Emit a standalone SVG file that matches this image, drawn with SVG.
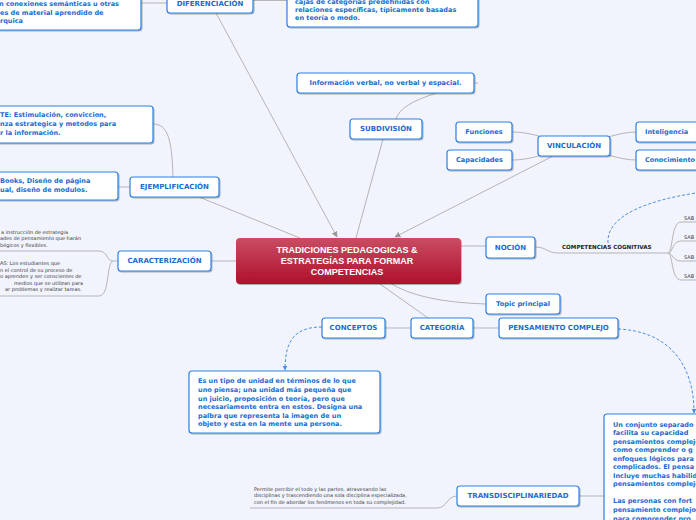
<svg xmlns="http://www.w3.org/2000/svg" width="696" height="520" viewBox="0 0 696 520">
<defs>
<filter id="sh" x="-10%" y="-20%" width="130%" height="160%"><feDropShadow dx="0.8" dy="1" stdDeviation="0.6" flood-color="#000" flood-opacity="0.3"/></filter>
<linearGradient id="rg" x1="0" y1="0" x2="0" y2="1"><stop offset="0" stop-color="#c94d63"/><stop offset="1" stop-color="#b0102b"/></linearGradient>
<marker id="ag" viewBox="0 0 10 10" refX="9" refY="5" markerWidth="6" markerHeight="6" orient="auto"><path d="M0,0 L10,5 L0,10 z" fill="#9a9a9a"/></marker>
<marker id="ab" viewBox="0 0 10 10" refX="9" refY="5" markerWidth="5" markerHeight="5" orient="auto"><path d="M0,0 L10,5 L0,10 z" fill="#4a8fe0"/></marker>
<style>
.n rect{fill:#fff;stroke:#2f80e6;stroke-width:1.2;filter:url(#sh)}
.t{font-family:"DejaVu Sans",Verdana,sans-serif;font-weight:bold;font-size:6.5px;fill:#1a6bd1}
.c{font-size:7px;text-anchor:middle}
.m{font-size:6.6px;text-anchor:middle}
.s{font-family:"DejaVu Sans",Verdana,sans-serif;font-size:5px;fill:#3a3a3a}
.k{font-family:"DejaVu Sans",Verdana,sans-serif;font-weight:bold;font-size:5.6px;fill:#222}
.w{font-family:"Liberation Sans",Arial,sans-serif;font-weight:bold;font-size:9px;fill:#fff;text-anchor:middle}
.ln{fill:none;stroke:#b5b5b5;stroke-width:1}
.ds{fill:none;stroke:#4a8fe0;stroke-width:1;stroke-dasharray:3 2}
</style>
</defs>
<rect x="0" y="0" width="696" height="520" fill="#f1f4fd"/>
<g id="connectors">
<path class="ln" d="M141,3 H167"/>
<path class="ln" d="M253,0.5 H287"/>
<path class="ln" d="M216,13 L337,237" marker-end="url(#ag)"/>
<path class="ln" d="M474,83 H478"/>
<path class="ln" d="M437,93 Q400,104 396,119"/>
<path class="ln" d="M383,139 L356,238"/>
<path class="ln" d="M512,132 C530,132 545,138 574,146"/>
<path class="ln" d="M512,160 C530,160 545,154 574,146"/>
<path class="ln" d="M574,146 C600,140 620,132 636,132"/>
<path class="ln" d="M574,146 C600,152 620,160 636,160"/>
<path class="ln" d="M553,156 L395,237" marker-end="url(#ag)"/>
<path class="ln" d="M173,177 C172,140 168,124 153,124" stroke-width="1.4"/>
<path class="ln" d="M130,187 H118"/>
<path class="ln" d="M199,197 L300,238"/>
<path class="ln" d="M211,261 H236"/>
<path class="ln" d="M118,261 H113 C106,261 108,251 99,251 H0"/>
<path class="ln" d="M113,261 C106,263 110,296 99,296 H0"/>
<path class="ln" d="M461,246 H486"/>
<path class="ln" d="M535,247 C547,247 547,253 558,253 H657"/>
<path class="ln" d="M657,253 H668" stroke="#999"/>
<path class="ln" d="M668,253 C673,253 671,222 681,222 H696"/>
<path class="ln" d="M668,253 C673,253 672,241 681,241 H696"/>
<path class="ln" d="M668,253 C673,253 672,261 681,261 H696"/>
<path class="ln" d="M668,253 C673,253 671,280 681,280 H696"/>
<path class="ds" d="M608,243 C606,215 650,200 696,193"/>
<path class="ln" d="M390,283 Q420,302 486,304"/>
<path class="ln" d="M380,284 L428,318"/>
<path class="ln" d="M385,328 H411"/>
<path class="ln" d="M473,328 H499"/>
<path class="ds" d="M322,327 C295,327 285,340 285,370" marker-end="url(#ab)"/>
<path class="ds" d="M618,329 C665,331 694,360 694,413" marker-end="url(#ab)"/>
<path class="ln" d="M579,496 H604"/>
<path class="ln" d="M457,496 C447,496 447,508 437,508 H250"/>
</g>
<g id="n-organizador" class="n"><rect x="-10" y="-10" width="151" height="40" rx="3"/>
<text class="t" x="-1" y="6.3">n conexiones semánticas u otras</text>
<text class="t" x="0" y="15">es de material aprendido de</text>
<text class="t" x="0" y="23.4">rquica</text></g>
<g id="n-diferenciacion" class="n"><rect x="167" y="-8" width="86" height="21" rx="3"/>
<text class="t c" x="210" y="6.2">DIFERENCIACIÓN</text></g>
<g id="n-cajas" class="n"><rect x="287" y="-10" width="191" height="37" rx="3"/>
<text class="t" x="295" y="3.8">cajas de categorías predefinidas con</text>
<text class="t" x="295" y="12.3">relaciones específicas, típicamente basadas</text>
<text class="t" x="295" y="20.2">en teoría o modo.</text></g>
<g id="n-info" class="n"><rect x="297" y="73" width="177" height="20" rx="3"/>
<text class="t m" x="385.5" y="85.4">Información verbal, no verbal y espacial.</text></g>
<g id="n-subdivision" class="n"><rect x="350" y="119" width="72" height="20" rx="3"/>
<text class="t c" x="386" y="131.4">SUBDIVISIÓN</text></g>
<g id="n-funciones" class="n"><rect x="456" y="122" width="56" height="20" rx="3"/>
<text class="t m" x="484" y="134.4">Funciones</text></g>
<g id="n-capacidades" class="n"><rect x="447" y="150" width="65" height="20" rx="3"/>
<text class="t m" x="479.5" y="162.4">Capacidades</text></g>
<g id="n-vinculacion" class="n"><rect x="538" y="136" width="72" height="20" rx="3"/>
<text class="t c" x="574" y="148.4">VINCULACIÓN</text></g>
<g id="n-inteligencia" class="n"><rect x="636" y="122" width="80" height="20" rx="3"/>
<text class="t" x="645" y="134.4" font-size="6.6">Inteligencia</text></g>
<g id="n-conocimiento" class="n"><rect x="636" y="150" width="80" height="20" rx="3"/>
<text class="t" x="645" y="162.4" font-size="6.6">Conocimiento</text></g>
<g id="n-este" class="n"><rect x="-10" y="106" width="163" height="37" rx="3"/>
<text class="t" x="0" y="117.3">TE: Estimulación, conviccion,</text>
<text class="t" x="0" y="126.3">nza estrategica y metodos para</text>
<text class="t" x="0" y="135.3">r la información.</text></g>
<g id="n-ejemplificacion" class="n"><rect x="130" y="177" width="89" height="20" rx="3"/>
<text class="t c" x="174.5" y="189.4">EJEMPLIFICACIÓN</text></g>
<g id="n-ebooks" class="n"><rect x="-10" y="172" width="128" height="28" rx="3"/>
<text class="t" x="0" y="183.3">Books, Diseño de página</text>
<text class="t" x="0" y="192.3">ual, diseño de modulos.</text></g>
<g id="n-caracterizacion" class="n"><rect x="118" y="251" width="93" height="20" rx="3"/>
<text class="t c" x="164.5" y="263.4">CARACTERIZACIÓN</text></g>
<g id="n-caract-1">
<text class="s" x="1" y="234">a instrucción de estrategia</text>
<text class="s" x="0" y="240.3">ades de pensamiento que harán</text>
<text class="s" x="0" y="246.6">bégicos y flexibles.</text></g>
<g id="n-caract-2">
<text class="s" x="0" y="265">AS: Los estudiantes que</text>
<text class="s" x="0" y="271.6">n el control de su proceso de</text>
<text class="s" x="0" y="278.2">o aprenden y ser conscientes de</text>
<text class="s" x="14" y="284.8">medios que se utilizan para</text>
<text class="s" x="5" y="291.4">ar problemas y realizar tareas.</text></g>
<g id="n-central"><rect x="236" y="238" width="225" height="46" rx="4" fill="url(#rg)" filter="url(#sh)"/>
<text class="w" x="347" y="253.3">TRADICIONES PEDAGOGICAS &amp;</text>
<text class="w" x="347" y="264">ESTRATEGÍAS PARA FORMAR</text>
<text class="w" x="347" y="274.6">COMPETENCIAS</text></g>
<g id="n-nocion" class="n"><rect x="486" y="237" width="49" height="21" rx="3"/>
<text class="t c" x="510.5" y="249.8">NOCIÓN</text></g>
<g id="n-competencias"><text class="k" x="562" y="249.3">COMPETENCIAS COGNITIVAS</text></g>
<g id="n-sab"><text class="s" x="684" y="220">SAB</text><text class="s" x="684" y="239">SAB</text><text class="s" x="684" y="259">SAB</text><text class="s" x="684" y="278">SAB</text></g>
<g id="n-topic" class="n"><rect x="486" y="294" width="74" height="20" rx="3"/>
<text class="t m" x="523" y="306.4">Topic principal</text></g>
<g id="n-conceptos" class="n"><rect x="322" y="318" width="63" height="20" rx="3"/>
<text class="t c" x="353.5" y="330.4">CONCEPTOS</text></g>
<g id="n-categoria" class="n"><rect x="411" y="318" width="62" height="20" rx="3"/>
<text class="t c" x="442" y="330.4">CATEGORÍA</text></g>
<g id="n-pensamiento" class="n"><rect x="499" y="318" width="119" height="20" rx="3"/>
<text class="t c" x="558.5" y="330.4">PENSAMIENTO COMPLEJO</text></g>
<g id="n-concepto-def" class="n"><rect x="189" y="371" width="191" height="62" rx="3"/>
<text class="t" x="198" y="383.3">Es un tipo de unidad en términos de lo que</text>
<text class="t" x="198" y="391.9">uno piensa; una unidad más pequeña que</text>
<text class="t" x="198" y="400.5">un juicio, proposición o teoría, pero que</text>
<text class="t" x="198" y="409.1">necesariamente entra en estos. Designa una</text>
<text class="t" x="198" y="417.7">palbra que representa la imagen de un</text>
<text class="t" x="198" y="426.3">objeto y esta en la mente una persona.</text></g>
<g id="n-pensamiento-def" class="n"><rect x="604" y="414" width="120" height="120" rx="3"/>
<text class="t" x="613" y="426.5">Un conjunto separado</text>
<text class="t" x="613" y="435">facilita su capacidad</text>
<text class="t" x="613" y="443.6">pensamientos complejos</text>
<text class="t" x="613" y="452.1">como comprender o g</text>
<text class="t" x="613" y="460.7">enfoques lógicos para</text>
<text class="t" x="613" y="469.2">complicados. El pensa</text>
<text class="t" x="613" y="477.8">Incluye muchas habilidades</text>
<text class="t" x="613" y="486.3">pensamientos complejos</text>
<text class="t" x="613" y="503.4">Las personas con fort</text>
<text class="t" x="613" y="512">pensamiento complejo</text>
<text class="t" x="613" y="520.5">para comprender pro</text></g>
<g id="n-trans" class="n"><rect x="457" y="486" width="122" height="20" rx="3"/>
<text class="t c" x="518" y="498.4">TRANSDISCIPLINARIEDAD</text></g>
<g id="n-trans-def">
<text class="s" x="254" y="490.8">Permite percibir el todo y las partes, atravesando las</text>
<text class="s" x="254" y="497.3">disciplinas y trascendiendo una sola disciplina especializada,</text>
<text class="s" x="254" y="503.8">con el fin de abordar los fenómenos en toda su complejidad.</text></g>
</svg>
